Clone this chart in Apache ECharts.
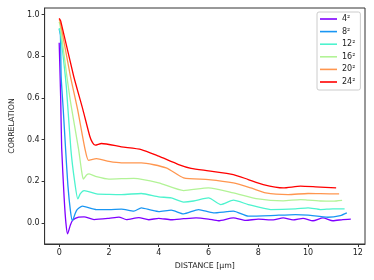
<!DOCTYPE html>
<html>
<head>
<meta charset="utf-8">
<script src="https://cdn.jsdelivr.net/npm/echarts@6/dist/echarts.min.js"></script>
<style>html,body{margin:0;padding:0;background:#fff}#c{width:374px;height:280px}</style>
</head>
<body>
<div id="c"></div>
<script>
var seriesNames = ['4²', '8²', '12²', '16²', '20²', '24²'];
var colors = ['#8000ff', '#1996f3', '#4df3ce', '#b2f396', '#ff964f', '#ff0000'];
var xTicks = [0, 2, 4, 6, 8, 10, 12];
var yTicks = [0.0, 0.2, 0.4, 0.6, 0.8, 1.0];

var s4 = [[0,0.865],[0.06,0.6],[0.1,0.36],[0.2,0.12],[0.27,0.0],[0.34,-0.053],[0.45,-0.01],[0.55,0.013],[0.78,0.027],[1,0.029],[1.4,0.016],[2,0.022],[2.4,0.028],[2.7,0.016],[3.2,0.025],[3.6,0.015],[4,0.022],[4.5,0.015],[5,0.02],[5.5,0.024],[6,0.018],[6.4,0.01],[7,0.024],[7.5,0.012],[8,0.018],[8.6,0.014],[9,0.024],[9.4,0.014],[9.8,0.022],[10.2,0.01],[10.6,0.024],[11,0.01],[11.4,0.016],[11.72,0.018]];
var s8 = [[0,0.93],[0.05,0.9],[0.08,0.7],[0.16,0.55],[0.26,0.35],[0.35,0.18],[0.45,0.06],[0.53,0.011],[0.7,0.06],[0.93,0.08],[1.5,0.064],[2,0.064],[2.5,0.066],[3,0.056],[3.3,0.072],[3.7,0.061],[4,0.054],[4.5,0.061],[5,0.043],[5.6,0.064],[6.2,0.048],[7,0.056],[7.6,0.032],[8.5,0.035],[9.5,0.04],[10,0.037],[10.8,0.027],[11.3,0.035],[11.56,0.048]];
var s12 = [[0,0.935],[0.05,0.91],[0.16,0.8],[0.29,0.65],[0.47,0.353],[0.62,0.2],[0.75,0.115],[0.85,0.14],[1.0,0.155],[1.5,0.139],[2,0.137],[2.5,0.136],[3.3,0.141],[4,0.125],[4.5,0.12],[5,0.1],[5.4,0.105],[6,0.12],[6.5,0.088],[7,0.109],[7.6,0.088],[8.5,0.064],[9.5,0.067],[10,0.072],[10.5,0.064],[11,0.067],[11.47,0.067]];
var s16 = [[0,0.965],[0.05,0.94],[0.29,0.72],[0.47,0.57],[0.78,0.353],[0.9,0.25],[0.97,0.21],[1.1,0.23],[1.2,0.235],[1.5,0.222],[2,0.21],[3,0.214],[4,0.192],[5,0.155],[6,0.168],[7,0.144],[8,0.115],[9,0.106],[9.7,0.112],[10,0.109],[10.5,0.105],[11,0.104],[11.37,0.108]];
var s20 = [[0,0.977],[0.05,0.96],[0.45,0.705],[0.74,0.545],[1.04,0.353],[1.18,0.3],[1.5,0.308],[2,0.295],[2.5,0.288],[3.3,0.288],[4.3,0.264],[5,0.216],[6,0.208],[7,0.192],[7.7,0.168],[8.3,0.144],[9.2,0.136],[10,0.141],[10.5,0.14],[11.25,0.139]];
var s24 = [[0,0.982],[0.06,0.97],[0.58,0.705],[0.95,0.545],[1.23,0.416],[1.34,0.385],[1.45,0.373],[1.7,0.381],[2.5,0.365],[3.3,0.352],[4,0.32],[4.8,0.28],[5.3,0.262],[6,0.25],[7,0.232],[7.6,0.208],[8.2,0.184],[9,0.168],[9.7,0.176],[10.3,0.173],[11.13,0.168]];

var allData = [s4, s8, s12, s16, s20, s24];
var font = 'DejaVu Sans';

var chart = echarts.init(document.getElementById('c'), null, {renderer: 'canvas'});
chart.setOption({
  animation: false,
  backgroundColor: '#fff',
  grid: {left: 38, right: 9, top: 8, bottom: 36, show: true, borderColor: '#333', borderWidth: 1},
  legend: {
    orient: 'vertical', left: 317, top: 12,
    data: seriesNames,
    icon: 'rect', itemWidth: 17, itemHeight: 1.6, itemGap: 2.6,
    padding: [2, 5, 3, 3],
    backgroundColor: '#fff', borderColor: '#ccc', borderWidth: 1, borderRadius: 2,
    textStyle: {fontFamily: font, fontSize: 8, color: '#222', lineHeight: 10}
  },
  xAxis: {
    type: 'value', min: -0.585, max: 12.29,
    name: 'DISTANCE [μm]', nameLocation: 'middle', nameGap: 17,
    nameTextStyle: {fontFamily: font, fontSize: 7.8, color: '#222'},
    axisLine: {show: true, onZero: false, lineStyle: {color: '#333', width: 1}},
    axisTick: {show: true, length: 3, customValues: xTicks, lineStyle: {color: '#333'}},
    axisLabel: {customValues: xTicks, fontFamily: font, fontSize: 8, color: '#222', margin: 5},
    splitLine: {show: false}
  },
  yAxis: {
    type: 'value', min: -0.1015, max: 1.0315,
    name: 'CORRELATION', nameLocation: 'middle', nameGap: 23, nameRotate: 90,
    nameTextStyle: {fontFamily: font, fontSize: 7.8, color: '#222'},
    axisLine: {show: true, onZero: false, lineStyle: {color: '#333', width: 1}},
    axisTick: {show: true, length: 3, customValues: yTicks, lineStyle: {color: '#333'}},
    axisLabel: {customValues: yTicks, fontFamily: font, fontSize: 8, color: '#222', margin: 5,
      formatter: function (v) { return v.toFixed(1); }},
    splitLine: {show: false}
  },
  series: seriesNames.map(function (n, i) {
    return {
      name: n, type: 'line', data: allData[i], showSymbol: false, symbol: 'none',
      smooth: 0.2, color: colors[i],
      lineStyle: {width: 1.3, color: colors[i]}
    };
  })
});
</script>
</body>
</html>
